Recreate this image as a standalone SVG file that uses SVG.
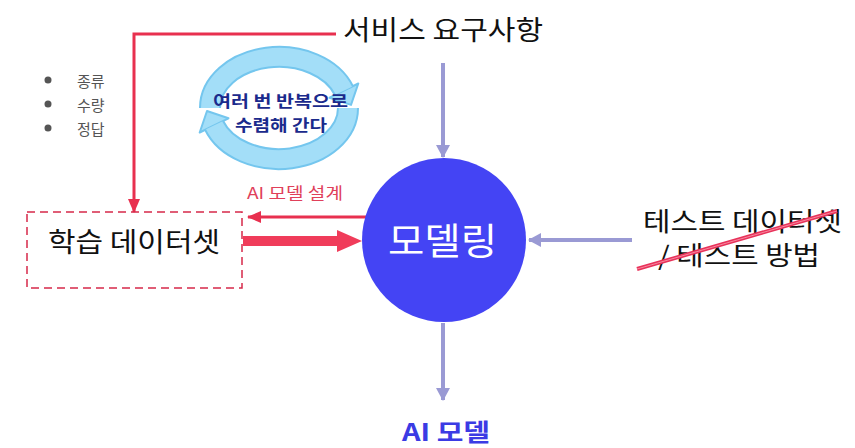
<svg xmlns="http://www.w3.org/2000/svg" width="855" height="448" viewBox="0 0 855 448">
<style>
.kr{font-family:"Noto Sans CJK KR","Noto Sans",sans-serif;}
.big{font-size:27px;fill:#111;}
.purple{stroke:#9a9ad4;stroke-width:4;fill:none;}
.red{stroke:#e8304f;stroke-width:3;fill:none;}
.ringO{stroke:#74c6ee;stroke-width:22;fill:none;}
.ringI{stroke:#a3def8;stroke-width:18;fill:none;}
</style>
<defs>
<marker id="pa" markerUnits="userSpaceOnUse" markerWidth="14" markerHeight="14" refX="12" refY="7" orient="auto"><path d="M0,0 L13,7 L0,14 Z" fill="#9a9ad4"/></marker>
<marker id="ra" markerUnits="userSpaceOnUse" markerWidth="14" markerHeight="12" refX="13" refY="6" orient="auto"><path d="M0,0 L14,6 L0,12 Z" fill="#e8304f"/></marker>
</defs>
<rect width="855" height="448" fill="#fff"/>

<g id="cycle">
<path class="ringO" d="M 210 108 A 69 51 0 0 1 343.9 90.6"/>
<path class="ringO" d="M 348 108 A 69 51 0 0 1 214.1 125.4"/>
<polygon points="329.5,97.7 358.3,83.5 351,104.9" fill="#a3def8" stroke="#74c6ee" stroke-width="2" stroke-linejoin="round"/>
<polygon points="228.5,118.3 199.7,132.5 207,111" fill="#a3def8" stroke="#74c6ee" stroke-width="2" stroke-linejoin="round"/>
<path class="ringI" d="M 210 108 A 69 51 0 0 1 343.9 90.6"/>
<path class="ringI" d="M 348 108 A 69 51 0 0 1 214.1 125.4"/>
<text class="kr" x="213" y="107" font-size="16" font-weight="bold" fill="#1a2a8c" textLength="135" lengthAdjust="spacingAndGlyphs">여러 번 반복으로</text>
<text class="kr" x="235" y="131" font-size="16" font-weight="bold" fill="#1a2a8c" textLength="92" lengthAdjust="spacingAndGlyphs">수렴해 간다</text>
</g>

<g id="connectors">
<line class="purple" x1="443" y1="63" x2="443" y2="157" marker-end="url(#pa)"/>
<line class="purple" x1="632" y1="240" x2="529" y2="240" marker-end="url(#pa)"/>
<line class="purple" x1="443" y1="323" x2="443" y2="400" marker-end="url(#pa)"/>
<polyline class="red" points="336,34 134,34 134,212" marker-end="url(#ra)"/>
<line class="red" x1="366" y1="217" x2="248" y2="217" marker-end="url(#ra)"/>
<path d="M243,236 L337,236 L337,230 L362,241 L337,252 L337,246 L243,246 Z" fill="#f03c5a"/>
</g>

<g id="service">
<text class="kr big" x="343" y="40" textLength="200" lengthAdjust="spacingAndGlyphs">서비스 요구사항</text>
</g>

<g id="bullets" class="kr" font-size="15" fill="#555">
<circle cx="48" cy="80" r="3.5" fill="#555"/>
<circle cx="48" cy="104" r="3.5" fill="#555"/>
<circle cx="48" cy="128" r="3.5" fill="#555"/>
<text x="77" y="87">종류</text>
<text x="77" y="111">수량</text>
<text x="77" y="135">정답</text>
</g>

<g id="dataset">
<rect x="27" y="212" width="215" height="76" fill="none" stroke="#d6284a" stroke-width="1.5" stroke-dasharray="8,5"/>
<text class="kr big" x="48" y="252" textLength="172" lengthAdjust="spacingAndGlyphs">학습 데이터셋</text>
</g>

<g id="design-label">
<text class="kr" x="247" y="199" font-size="16" fill="#e0405a" textLength="96" lengthAdjust="spacingAndGlyphs">AI 모델 설계</text>
</g>

<g id="modeling">
<circle cx="444" cy="240" r="82" fill="#4444f4"/>
<text class="kr" x="388" y="255" font-size="37" fill="#fff" textLength="109" lengthAdjust="spacingAndGlyphs">모델링</text>
</g>

<g id="test">
<text class="kr" x="643" y="231" font-size="26" fill="#111" textLength="199" lengthAdjust="spacingAndGlyphs">테스트 데이터셋</text>
<text class="kr" x="658" y="265" font-size="26" fill="#111" textLength="162" lengthAdjust="spacingAndGlyphs">/ 테스트 방법</text>
<line x1="637" y1="269" x2="837" y2="211" stroke="#e8325a" stroke-width="4"/>
<line x1="637" y1="269" x2="837" y2="211" stroke="#f78aa0" stroke-width="1"/>
</g>

<g id="ai-model">
<text class="kr" x="402" y="441" font-size="24" font-weight="bold" fill="#3b3be4" textLength="88" lengthAdjust="spacingAndGlyphs">AI 모델</text>
</g>
</svg>
